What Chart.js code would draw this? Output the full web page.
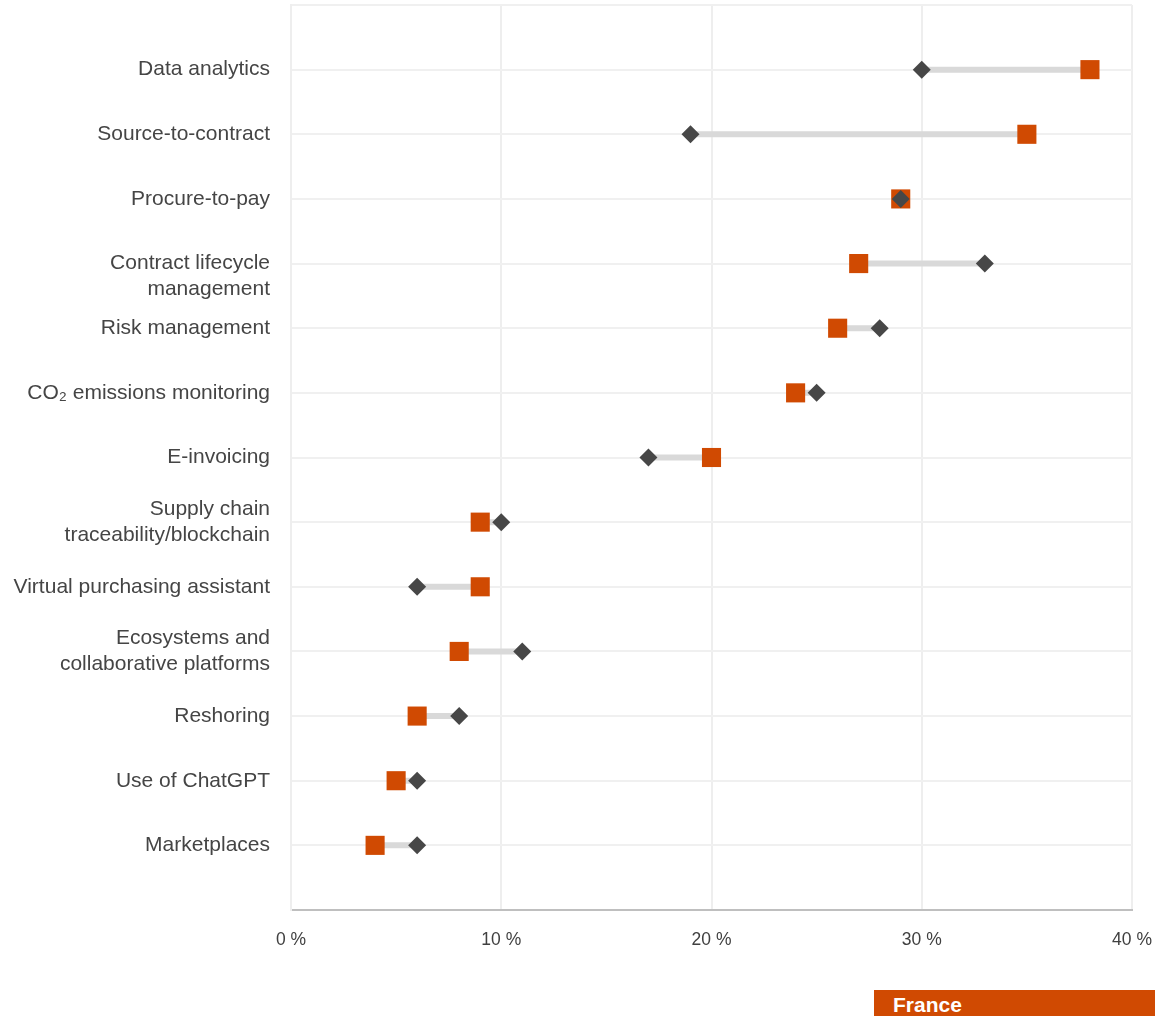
<!DOCTYPE html>
<html>
<head>
<meta charset="utf-8">
<script src="https://cdn.jsdelivr.net/npm/chart.js@4.4.1/dist/chart.umd.min.js"></script>
<style>
  html, body { margin: 0; padding: 0; background: #fff; overflow: hidden; }
  #wrap { position: absolute; left: 0; top: 0; width: 1155px; height: 960px; }
  #leyenda {
    position: absolute; left: 874px; top: 990px; width: 281px; height: 30px;
    background: #d04a02; color: #fff; font: bold 21px "Liberation Sans", Arial, sans-serif;
    line-height: 30px; padding-left: 19px; box-sizing: border-box;
  }
</style>
</head>
<body>
<div id="wrap"><canvas id="grafica"></canvas></div>
<div id="leyenda">France</div>
<script>
// Datos (porcentaje)
const categorias = [
    'Data analytics',
    'Source-to-contract',
    'Procure-to-pay',
    ['', 'Contract lifecycle', 'management'], // primera línea alineada con la marca, como en el original
    'Risk management',
    'CO\u2082 emissions monitoring',
    'E-invoicing',
    ['Supply chain', 'traceability/blockchain'],
    'Virtual purchasing assistant',
    ['Ecosystems and', 'collaborative platforms'],
    'Reshoring',
    'Use of ChatGPT',
    'Marketplaces'
];
const valoresFrance = [38, 35, 29, 27, 26, 24, 20, 9, 9, 8, 6, 5, 4];
const valoresOtros = [30, 19, 29, 33, 28, 25, 17, 10, 6, 11, 8, 6, 6];
const ticksX = [0, 10, 20, 30, 40];

const naranja = '#d04a02';
const gris = '#474747';

// Puntos por categoría (y = posición 1..13)
const puntosFrance = valoresFrance.map((v, i) => ({ x: v, y: i + 1 }));
const puntosOtros = valoresOtros.map((v, i) => ({ x: v, y: i + 1 }));

// Segmentos que unen ambos valores, separados por huecos
const segmentos = [];
categorias.forEach((c, i) => {
    segmentos.push({ x: valoresFrance[i], y: i + 1 });
    segmentos.push({ x: valoresOtros[i], y: i + 1 });
    segmentos.push({ x: null, y: null });
});

const ctx = document.getElementById('grafica').getContext('2d');
new Chart(ctx, {
    type: 'scatter',
    data: {
        datasets: [
            {
                label: 'Otros',
                data: puntosOtros,
                pointStyle: 'rectRot',
                pointRadius: 9,
                pointHoverRadius: 9,
                backgroundColor: gris,
                borderColor: gris,
                borderWidth: 0,
                order: 0
            },
            {
                label: 'France',
                data: puntosFrance,
                pointStyle: 'rect',
                pointRadius: 13.5,
                pointHoverRadius: 13.5,
                backgroundColor: naranja,
                borderColor: naranja,
                borderWidth: 0,
                order: 1
            },
            {
                label: 'segmentos',
                type: 'line',
                data: segmentos,
                showLine: true,
                spanGaps: false,
                borderColor: '#d9d9d9',
                borderWidth: 6,
                pointRadius: 0,
                order: 2
            }
        ]
    },
    options: {
        responsive: true,
        maintainAspectRatio: false,
        animation: false,
        layout: { autoPadding: false, padding: { top: 5, right: 23, left: 0, bottom: 0 } },
        plugins: {
            legend: { display: false },
            tooltip: { enabled: false }
        },
        scales: {
            x: {
                type: 'linear',
                min: 0,
                max: 40,
                afterBuildTicks: function(scale) {
                    scale.ticks = ticksX.map(v => ({ value: v }));
                },
                afterFit: function(scale) {
                    scale.height = 50;
                    scale.paddingLeft = 0;
                    scale.paddingRight = 0;
                },
                ticks: {
                    padding: 20,
                    color: '#404040',
                    font: { family: '"Liberation Sans", Arial, sans-serif', size: 17.5 },
                    callback: v => v + ' %'
                },
                grid: { color: '#eeeeee', lineWidth: 2, drawTicks: false },
                border: { color: '#bfbfbf', width: 2 }
            },
            y: {
                type: 'linear',
                reverse: true,
                min: 0,
                max: 14,
                afterFit: function(scale) {
                    scale.width = 291;
                    scale.paddingTop = 0;
                    scale.paddingBottom = 0;
                },
                ticks: {
                    stepSize: 1,
                    autoSkip: false,
                    padding: 21,
                    color: '#454545',
                    font: { family: '"Liberation Sans", Arial, sans-serif', size: 21, lineHeight: 1.24 },
                    callback: v => categorias[v - 1] || ''
                },
                grid: { color: '#f0f0f0', lineWidth: 2, drawTicks: false },
                border: { color: '#eeeeee', width: 2 }
            }
        }
    }
});
</script>
</body>
</html>
